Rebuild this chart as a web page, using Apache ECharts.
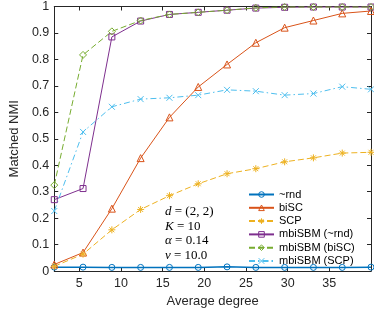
<!DOCTYPE html>
<html>
<head>
<meta charset="utf-8">
<script src="https://cdn.jsdelivr.net/npm/echarts@6/dist/echarts.min.js"></script>
<style>
html,body{margin:0;padding:0;background:#fff;}
#chart{width:374px;height:313px;}
</style>
</head>
<body>
<div id="chart"></div>
<script>
// ---- data ----
const avgDegree = [2, 5.45, 8.91, 12.36, 15.82, 19.27, 22.73, 26.18, 29.64, 33.09, 36.55, 40];
const rnd      = [0.015,0.015,0.014,0.014,0.014,0.014,0.016,0.014,0.014,0.014,0.014,0.015];
const biSC     = [0.025,0.070,0.236,0.427,0.581,0.696,0.781,0.863,0.920,0.947,0.974,0.983];
const SCP      = [0.018,0.064,0.156,0.233,0.285,0.330,0.368,0.387,0.413,0.428,0.446,0.449];
const mbiRnd   = [0.270,0.312,0.885,0.945,0.970,0.978,0.986,0.994,0.997,0.998,0.998,0.998];
const mbiBiSC  = [0.325,0.817,0.906,0.947,0.970,0.978,0.986,0.995,0.998,0.998,0.998,0.998];
const mbiSCP   = [0.227,0.526,0.621,0.650,0.655,0.665,0.685,0.680,0.665,0.671,0.697,0.687];
const seriesNames = ['~rnd','biSC','SCP','mbiSBM (~rnd)','mbiSBM (biSC)','mbiSBM (SCP)'];
const xTicks = [5,10,15,20,25,30,35];
const yTicks = [0,0.1,0.2,0.3,0.4,0.5,0.6,0.7,0.8,0.9,1];
const xLabel = 'Average degree';
const yLabel = 'Matched NMI';
const annotation = [['d',' = (2, 2)'],['K',' = 10'],['α',' = 0.14'],['ν',' = 10.0']];

const pair = ys => avgDegree.map((x,i)=>[x, ys[i]]);
const axisColor = '#262626';
const ASTER = 'path://M5 0V10M0 5H10M1.46 1.46L8.54 8.54M8.54 1.46L1.46 8.54';
const CROSS = 'path://M0 0L10 10M10 0L0 10';

function mk(name, ys, color, symbol, size, type, width) {
  return {
    name, type: 'line', data: pair(ys),
    symbol, symbolSize: size,
    lineStyle: {color, width: width || 1, type: type || 'solid'},
    itemStyle: {color: 'rgba(255,255,255,0)', borderColor: color, borderWidth: 1},
    emphasis: {disabled: true},
    z: 3
  };
}

const chart = echarts.init(document.getElementById('chart'), null, {renderer: 'canvas'});
const baseX = {
  type: 'value', min: 2, max: 40,
  axisLine: {show: true, onZero: false, lineStyle: {color: axisColor, width: 1}},
  axisTick: {show: true, inside: true, length: 4, customValues: xTicks, lineStyle: {color: axisColor}},
  splitLine: {show: false}
};
const baseY = {
  type: 'value', min: 0, max: 1, interval: 0.1,
  axisLine: {show: true, onZero: false, lineStyle: {color: axisColor, width: 1}},
  axisTick: {show: true, inside: true, length: 4, lineStyle: {color: axisColor}},
  splitLine: {show: false}
};

chart.setOption({
  animation: false,
  grid: {left: 42, right: 3, top: 5, bottom: 37.5, containLabel: false},
  xAxis: [
    Object.assign({}, baseX, {
      position: 'bottom',
      name: xLabel, nameLocation: 'middle', nameGap: 22,
      nameTextStyle: {fontFamily: 'Liberation Sans', fontSize: 13, color: axisColor},
      axisLabel: {customValues: xTicks, fontFamily: 'Liberation Sans', fontSize: 12.5, color: axisColor, margin: 6}
    }),
    Object.assign({}, baseX, {position: 'top', axisLabel: {show: false}})
  ],
  yAxis: [
    Object.assign({}, baseY, {
      position: 'left',
      name: yLabel, nameLocation: 'middle', nameGap: 25,
      nameTextStyle: {fontFamily: 'Liberation Sans', fontSize: 13, color: axisColor},
      axisLabel: {fontFamily: 'Liberation Sans', fontSize: 12.5, color: axisColor, margin: 5,
        formatter: v => String(Math.round(v*10)/10)}
    }),
    Object.assign({}, baseY, {position: 'right', axisLabel: {show: false}})
  ],
  legend: {
    orient: 'vertical', left: 248, top: 189, itemWidth: 25, itemHeight: 7, itemGap: 2.3,
    padding: 0,
    itemStyle: {color: 'rgba(255,255,255,0)', borderWidth: 1},
    textStyle: {fontFamily: 'Liberation Sans', fontSize: 11, color: '#000'},
    data: seriesNames
  },
  graphic: [{
    type: 'text', left: 165, top: 204, z: 10,
    style: {
      text: annotation.map(a => '{i|' + a[0] + '}' + a[1]).join('\n'),
      font: '13px "Liberation Serif"', lineHeight: 14.8, fill: '#000',
      rich: {i: {fontStyle: 'italic', fontFamily: 'Liberation Serif', fontSize: 13, lineHeight: 14.8}}
    }
  }],
  series: [
    mk(seriesNames[0], rnd, '#0072BD', 'circle', 6, 'solid', 1.5),
    mk(seriesNames[1], biSC, '#D95319', 'triangle', 7),
    mk(seriesNames[2], SCP, '#EDB120', ASTER, 7, [6,3]),
    mk(seriesNames[3], mbiRnd, '#7E2F8E', 'rect', 6),
    mk(seriesNames[4], mbiBiSC, '#77AC30', 'diamond', 7, [6,3]),
    mk(seriesNames[5], mbiSCP, '#4DBEEE', CROSS, 6, [6,3,1.5,3])
  ]
});
</script>
</body>
</html>
